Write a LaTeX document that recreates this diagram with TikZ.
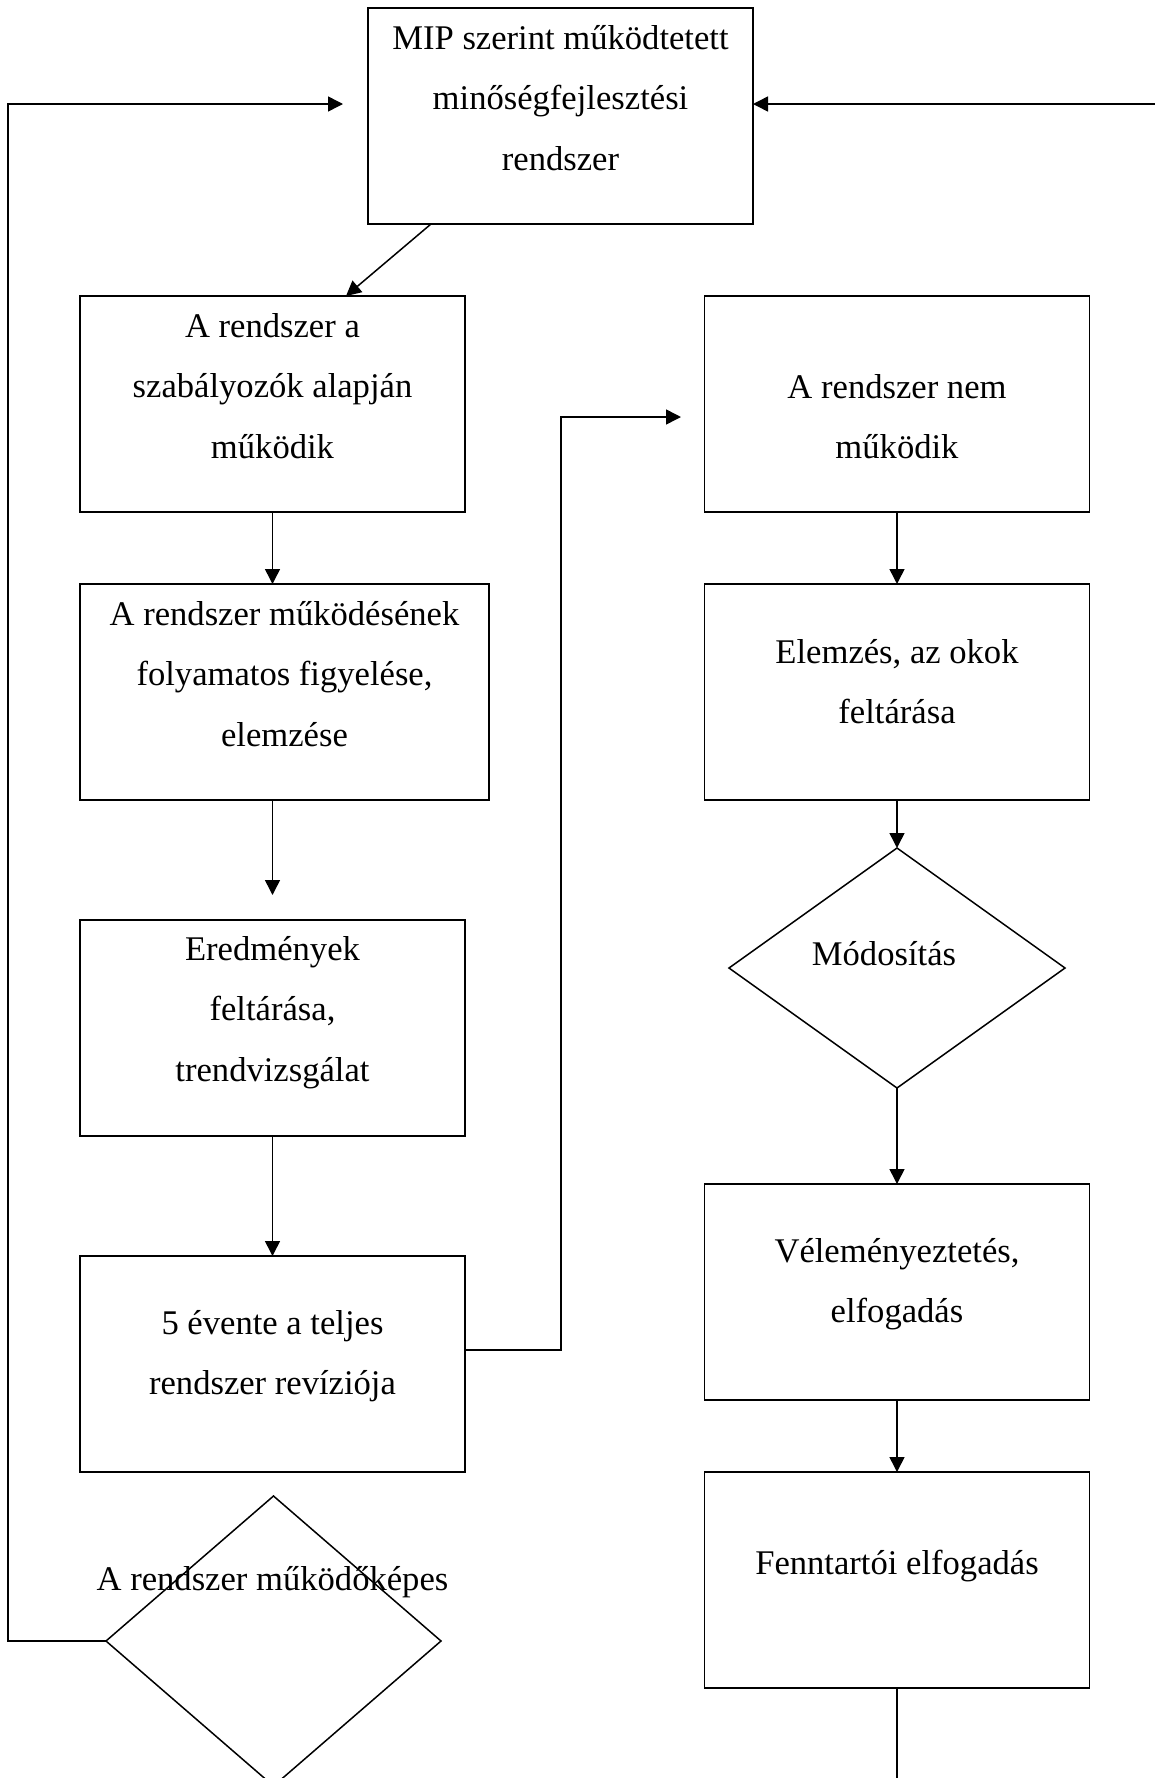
\documentclass[tikz,border=0pt]{standalone}
\usepackage{fontspec}
\setmainfont{Liberation Serif}
\usetikzlibrary{arrows.meta,shapes.geometric}
% centred multi-line label whose baseline is that of its first line
\newcommand{\stackln}[1]{\begin{tabular}[t]{@{}c@{}}#1\end{tabular}}

\tikzset{
  stepbox/.style={draw, rectangle, minimum width=192.5pt, minimum height=108pt},
  widebox/.style={draw, rectangle, minimum width=204.5pt, minimum height=108pt},
  decision/.style={draw, diamond},
  txt/.style={anchor=base, font=\fontsize{17.3}{30.25}\selectfont},
  flow/.style={-{Triangle[length=7.5pt,width=7.5pt]}},
}

\begin{document}
\begin{tikzpicture}[x=0.5pt,y=-0.5pt,
  line width=0.75pt,
  every node/.style={inner sep=0pt, outer sep=0pt},
]
\useasboundingbox (0,0) rectangle (1155,1778);

% boxes and decisions
\node[stepbox] (mip)  at (560.5,116) {};
\node[stepbox] (ok)   at (272.5,404) {};
\node[stepbox] (nem)  at (897,404) {};
\node[widebox] (figy) at (284.5,692) {};
\node[stepbox] (elem) at (897,692) {};
\node[stepbox] (ered) at (272.5,1028) {};
\node[decision, minimum width=168pt, minimum height=120pt] (mod) at (897,968) {};
\node[stepbox] (vel)  at (897,1292) {};
\node[stepbox] (rev)  at (272.5,1364) {};
\node[stepbox] (fenn) at (897,1580) {};
\node[decision, minimum width=167.5pt, minimum height=145pt] (kep) at (273.5,1641) {};

% texts
\node[txt] (mipT)  at (560.5,49)  {\stackln{MIP szerint működtetett\\minőségfejlesztési\\rendszer}};
\node[txt] (okT)   at (272.5,337) {\stackln{A rendszer a\\szabályozók alapján\\működik}};
\node[txt] (nemT)  at (897,398)   {\stackln{A rendszer nem\\működik}};
\node[txt] (figyT) at (284.5,625) {\stackln{A rendszer működésének\\folyamatos figyelése,\\elemzése}};
\node[txt] (elemT) at (897,663)   {\stackln{Elemzés, az okok\\feltárása}};
\node[txt] (eredT) at (272.5,960) {\stackln{Eredmények\\feltárása,\\trendvizsgálat}};
\node[txt] (modT)  at (884,965)   {Módosítás};
\node[txt] (velT)  at (897,1262)  {\stackln{Véleményeztetés,\\elfogadás}};
\node[txt] (revT)  at (272.5,1334){\stackln{5 évente a teljes\\rendszer revíziója}};
\node[txt] (fennT) at (897,1574)  {Fenntartói elfogadás};
\node[txt] (kepT)  at (272.5,1590){A rendszer működőképes};

% helper points for the bent connectors
\coordinate (loopL)  at (8,1641);
\coordinate (inL)    at (343,104);
\coordinate (rEdge)  at (1155,104);
\coordinate (revOut) at (465,1350);
\coordinate (jog)    at (561,417);
\coordinate (nemIn)  at (681,417);
\coordinate (bottomOut) at (897,1778);

% left column
\draw[flow] ([xshift=31.5pt]mip.south west) -- ([xshift=133pt]ok.north west);
\draw[flow] (ok.south) -- (ok.south |- figy.north);
\draw[flow, shorten >=12.5pt] (ok.south |- figy.south) -- (ered.north);
\draw[flow] (ered.south) -- (rev.north);
\draw[flow] (revOut) -| (jog) -- (nemIn);

% feedback loops into the top box
\draw[flow] (kep.west) -- (loopL) |- (inL);
\draw[flow] (rEdge) -- (mip.east |- rEdge);

% right column
\draw[flow] (nem.south) -- (elem.north);
\draw[flow] (elem.south) -- (mod.north);
\draw[flow] (mod.south) -- (vel.north);
\draw[flow] (vel.south) -- (fenn.north);
\draw (fenn.south) -- (bottomOut);
\end{tikzpicture}
\end{document}
